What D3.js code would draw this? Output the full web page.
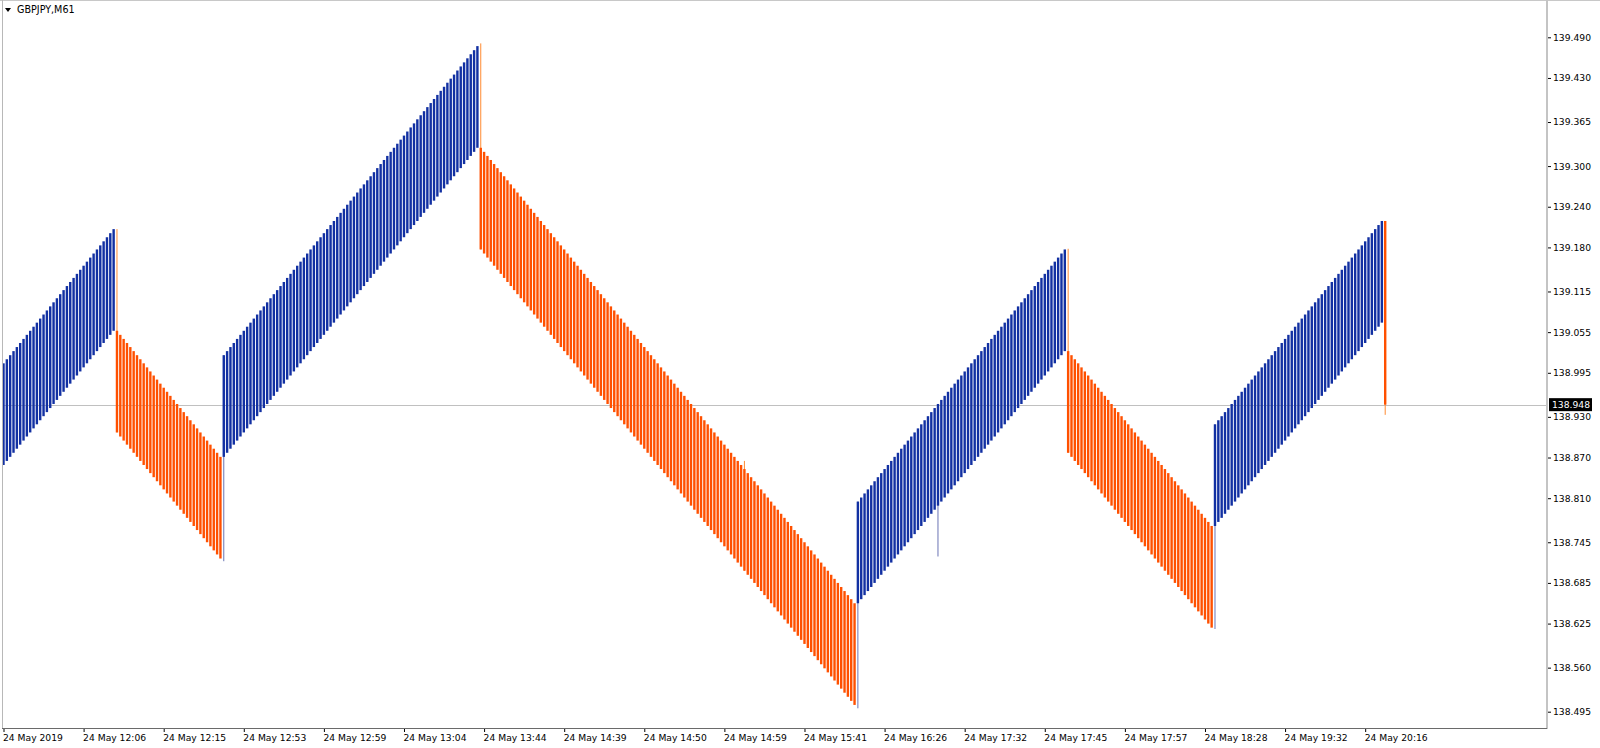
<!DOCTYPE html>
<html><head><meta charset="utf-8">
<script src="https://cdn.jsdelivr.net/npm/d3@7"></script>
<style>html,body{margin:0;padding:0;background:#fff;overflow:hidden}</style>
</head><body><svg id="c" width="1600" height="748"></svg>
<script>
const symbol = "GBPJPY,M61";
// bar opens / closes (bar index = position)
const opens = [
// leg 1 up
138.859,138.865,138.871,138.877,138.883,138.889,138.895,138.901,138.907,138.913,
138.919,138.925,138.931,138.937,138.943,138.949,138.955,138.961,138.967,138.973,
138.979,138.985,138.991,138.997,139.003,139.009,139.015,139.021,139.027,139.033,
139.039,139.045,139.051,139.057,
// leg 2 down
139.057,139.051,139.045,139.039,139.033,139.027,139.021,139.015,139.009,139.003,
138.997,138.991,138.985,138.979,138.973,138.967,138.961,138.955,138.949,138.943,
138.937,138.931,138.925,138.919,138.913,138.907,138.901,138.895,138.889,138.883,
138.877,138.871,
// leg 3 up
138.871,138.877,138.883,138.889,138.895,138.901,138.907,138.913,138.919,138.925,
138.931,138.937,138.943,138.949,138.955,138.961,138.967,138.973,138.979,138.985,
138.991,138.997,139.003,139.009,139.015,139.021,139.027,139.033,139.039,139.045,
139.051,139.057,139.063,139.069,139.075,139.081,139.087,139.093,139.099,139.105,
139.111,139.117,139.123,139.129,139.135,139.141,139.147,139.153,139.159,139.165,
139.171,139.177,139.183,139.189,139.195,139.201,139.207,139.213,139.219,139.225,
139.231,139.237,139.243,139.249,139.255,139.261,139.267,139.273,139.279,139.285,
139.291,139.297,139.303,139.309,139.315,139.321,139.327,
// leg 4 down
139.327,139.321,139.315,139.309,139.303,139.297,139.291,139.285,139.279,139.273,
139.267,139.261,139.255,139.249,139.243,139.237,139.231,139.225,139.219,139.213,
139.207,139.201,139.195,139.189,139.183,139.177,139.171,139.165,139.159,139.153,
139.147,139.141,139.135,139.129,139.123,139.117,139.111,139.105,139.099,139.093,
139.087,139.081,139.075,139.069,139.063,139.057,139.051,139.045,139.039,139.033,
139.027,139.021,139.015,139.009,139.003,138.997,138.991,138.985,138.979,138.973,
138.967,138.961,138.955,138.949,138.943,138.937,138.931,138.925,138.919,138.913,
138.907,138.901,138.895,138.889,138.883,138.877,138.871,138.865,138.859,138.853,
138.847,138.841,138.835,138.829,138.823,138.817,138.811,138.805,138.799,138.793,
138.787,138.781,138.775,138.769,138.763,138.757,138.751,138.745,138.739,138.733,
138.727,138.721,138.715,138.709,138.703,138.697,138.691,138.685,138.679,138.673,
138.667,138.661,138.655,
// leg 5 up
138.655,138.661,138.667,138.673,138.679,138.685,138.691,138.697,138.703,138.709,
138.715,138.721,138.727,138.733,138.739,138.745,138.751,138.757,138.763,138.769,
138.775,138.781,138.787,138.793,138.799,138.805,138.811,138.817,138.823,138.829,
138.835,138.841,138.847,138.853,138.859,138.865,138.871,138.877,138.883,138.889,
138.895,138.901,138.907,138.913,138.919,138.925,138.931,138.937,138.943,138.949,
138.955,138.961,138.967,138.973,138.979,138.985,138.991,138.997,139.003,139.009,
139.015,139.021,139.027,
// leg 6 down
139.027,139.021,139.015,139.009,139.003,138.997,138.991,138.985,138.979,138.973,
138.967,138.961,138.955,138.949,138.943,138.937,138.931,138.925,138.919,138.913,
138.907,138.901,138.895,138.889,138.883,138.877,138.871,138.865,138.859,138.853,
138.847,138.841,138.835,138.829,138.823,138.817,138.811,138.805,138.799,138.793,
138.787,138.781,138.775,138.769,
// leg 7 up
138.769,138.775,138.781,138.787,138.793,138.799,138.805,138.811,138.817,138.823,
138.829,138.835,138.841,138.847,138.853,138.859,138.865,138.871,138.877,138.883,
138.889,138.895,138.901,138.907,138.913,138.919,138.925,138.931,138.937,138.943,
138.949,138.955,138.961,138.967,138.973,138.979,138.985,138.991,138.997,139.003,
139.009,139.015,139.021,139.027,139.033,139.039,139.045,139.051,139.057,139.063,
139.069,
// last bar
139.219
];
const closes = [
// leg 1
139.009,139.015,139.021,139.027,139.033,139.039,139.045,139.051,139.057,139.063,
139.069,139.075,139.081,139.087,139.093,139.099,139.105,139.111,139.117,139.123,
139.129,139.135,139.141,139.147,139.153,139.159,139.165,139.171,139.177,139.183,
139.189,139.195,139.201,139.207,
// leg 2
138.907,138.901,138.895,138.889,138.883,138.877,138.871,138.865,138.859,138.853,
138.847,138.841,138.835,138.829,138.823,138.817,138.811,138.805,138.799,138.793,
138.787,138.781,138.775,138.769,138.763,138.757,138.751,138.745,138.739,138.733,
138.727,138.721,
// leg 3
139.021,139.027,139.033,139.039,139.045,139.051,139.057,139.063,139.069,139.075,
139.081,139.087,139.093,139.099,139.105,139.111,139.117,139.123,139.129,139.135,
139.141,139.147,139.153,139.159,139.165,139.171,139.177,139.183,139.189,139.195,
139.201,139.207,139.213,139.219,139.225,139.231,139.237,139.243,139.249,139.255,
139.261,139.267,139.273,139.279,139.285,139.291,139.297,139.303,139.309,139.315,
139.321,139.327,139.333,139.339,139.345,139.351,139.357,139.363,139.369,139.375,
139.381,139.387,139.393,139.399,139.405,139.411,139.417,139.423,139.429,139.435,
139.441,139.447,139.453,139.459,139.465,139.471,139.477,
// leg 4
139.177,139.171,139.165,139.159,139.153,139.147,139.141,139.135,139.129,139.123,
139.117,139.111,139.105,139.099,139.093,139.087,139.081,139.075,139.069,139.063,
139.057,139.051,139.045,139.039,139.033,139.027,139.021,139.015,139.009,139.003,
138.997,138.991,138.985,138.979,138.973,138.967,138.961,138.955,138.949,138.943,
138.937,138.931,138.925,138.919,138.913,138.907,138.901,138.895,138.889,138.883,
138.877,138.871,138.865,138.859,138.853,138.847,138.841,138.835,138.829,138.823,
138.817,138.811,138.805,138.799,138.793,138.787,138.781,138.775,138.769,138.763,
138.757,138.751,138.745,138.739,138.733,138.727,138.721,138.715,138.709,138.703,
138.697,138.691,138.685,138.679,138.673,138.667,138.661,138.655,138.649,138.643,
138.637,138.631,138.625,138.619,138.613,138.607,138.601,138.595,138.589,138.583,
138.577,138.571,138.565,138.559,138.553,138.547,138.541,138.535,138.529,138.523,
138.517,138.511,138.505,
// leg 5
138.805,138.811,138.817,138.823,138.829,138.835,138.841,138.847,138.853,138.859,
138.865,138.871,138.877,138.883,138.889,138.895,138.901,138.907,138.913,138.919,
138.925,138.931,138.937,138.943,138.949,138.955,138.961,138.967,138.973,138.979,
138.985,138.991,138.997,139.003,139.009,139.015,139.021,139.027,139.033,139.039,
139.045,139.051,139.057,139.063,139.069,139.075,139.081,139.087,139.093,139.099,
139.105,139.111,139.117,139.123,139.129,139.135,139.141,139.147,139.153,139.159,
139.165,139.171,139.177,
// leg 6
138.877,138.871,138.865,138.859,138.853,138.847,138.841,138.835,138.829,138.823,
138.817,138.811,138.805,138.799,138.793,138.787,138.781,138.775,138.769,138.763,
138.757,138.751,138.745,138.739,138.733,138.727,138.721,138.715,138.709,138.703,
138.697,138.691,138.685,138.679,138.673,138.667,138.661,138.655,138.649,138.643,
138.637,138.631,138.625,138.619,
// leg 7
138.919,138.925,138.931,138.937,138.943,138.949,138.955,138.961,138.967,138.973,
138.979,138.985,138.991,138.997,139.003,139.009,139.015,139.021,139.027,139.033,
139.039,139.045,139.051,139.057,139.063,139.069,139.075,139.081,139.087,139.093,
139.099,139.105,139.111,139.117,139.123,139.129,139.135,139.141,139.147,139.153,
139.159,139.165,139.171,139.177,139.183,139.189,139.195,139.201,139.207,139.213,
139.219,
// last bar
138.948
];
// bars that show a high/low shadow beyond their body
const wickBars  = [34, 66, 143, 222, 256, 280, 319, 363, 414];
const wickHighs = [139.207, 139.021, 139.481, 138.865, 138.805, 138.949, 139.178, 138.919, 139.219];
const wickLows  = [138.907, 138.717, 139.177, 138.703, 138.500, 138.724, 138.877, 138.617, 138.933];

const lastPrice = 138.948;
const yTickValues = [139.490,139.430,139.365,139.300,139.240,139.180,139.115,139.055,138.995,
                     138.930,138.870,138.810,138.745,138.685,138.625,138.560,138.495];
const xTickBars = [0,24,48,72,96,120,144,168,192,216,240,264,288,312,336,360,384,408];
const xTickLabels = ["24 May 2019","24 May 12:06","24 May 12:15","24 May 12:53","24 May 12:59",
  "24 May 13:04","24 May 13:44","24 May 14:39","24 May 14:50","24 May 14:59","24 May 15:41",
  "24 May 16:26","24 May 17:32","24 May 17:45","24 May 17:57","24 May 18:28","24 May 19:32","24 May 20:16"];

const svg = d3.select("#c");
const FONT = "DejaVu Sans, Tahoma, sans-serif";
const plotL = 2, plotR = 1547, plotT = 1, plotB = 728;

const n = closes.length;
const x = d3.scaleLinear().domain([0, 414]).range([3.5, 1385.2]);
const y = d3.scaleLinear().domain([139.490, 138.495]).range([37.3, 711.7]);

const UP = "#1230a2", DOWN = "#ff5000";
const bw = 2.4;

// price line
svg.append("line").attr("x1", plotL).attr("x2", plotR)
  .attr("y1", Math.round(y(lastPrice)) + 0.5).attr("y2", Math.round(y(lastPrice)) + 0.5)
  .attr("stroke", "#c0c0c0").attr("stroke-width", 1);

// wicks
const wicks = wickBars.map((b, i) => ({b, hi: wickHighs[i], lo: wickLows[i], up: closes[b] >= opens[b]}));
svg.append("g").selectAll("line").data(wicks).join("line")
  .attr("x1", d => x(d.b)).attr("x2", d => x(d.b))
  .attr("y1", d => y(d.hi)).attr("y2", d => y(d.lo))
  .attr("stroke", d => d.up ? "#6a74b4" : "#ff8a30")
  .attr("stroke-width", 1);

// bodies
const bars = d3.range(n).map(i => ({i, o: opens[i], c: closes[i]}));
svg.append("g").selectAll("rect").data(bars).join("rect")
  .attr("x", d => x(d.i) - bw / 2)
  .attr("width", bw)
  .attr("y", d => y(Math.max(d.o, d.c)))
  .attr("height", d => Math.abs(y(d.o) - y(d.c)))
  .attr("fill", d => d.c >= d.o ? UP : DOWN);

// frame
svg.append("line").attr("x1", 0).attr("x2", 1600).attr("y1", 0.5).attr("y2", 0.5).attr("stroke", "#c8c8c8");
svg.append("line").attr("x1", plotL + 0.5).attr("x2", plotL + 0.5).attr("y1", 0).attr("y2", plotB).attr("stroke", "#b8b8b8");
svg.append("line").attr("x1", plotR).attr("x2", plotR).attr("y1", 0).attr("y2", plotB + 1).attr("stroke", "#c4c4c4").attr("stroke-width", 2);
svg.append("line").attr("x1", plotL).attr("x2", plotR).attr("y1", plotB + 0.5).attr("y2", plotB + 0.5).attr("stroke", "#6a6a6a");

// x axis
const xAxis = svg.append("g").attr("transform", `translate(0,${plotB + 1})`)
  .call(d3.axisBottom(x).tickValues(xTickBars).tickFormat((d, i) => xTickLabels[i]).tickSize(3).tickPadding(2));
xAxis.select(".domain").remove();
xAxis.selectAll(".tick line").attr("stroke", "#000");
xAxis.selectAll(".tick text").attr("text-anchor", "start").attr("dx", -1)
  .attr("font-family", FONT).attr("font-size", 9.2).attr("fill", "#000");

// y axis
const yAxis = svg.append("g").attr("transform", `translate(${plotR + 1},0)`)
  .call(d3.axisRight(y).tickValues(yTickValues).tickFormat(d3.format(".3f")).tickSize(3).tickPadding(2));
yAxis.select(".domain").remove();
yAxis.selectAll(".tick line").attr("stroke", "#000");
yAxis.selectAll(".tick text").attr("font-family", FONT).attr("font-size", 9.2).attr("fill", "#000");

// current price label
const py = y(lastPrice);
svg.append("rect").attr("x", plotR + 2).attr("y", py - 6.5).attr("width", 43).attr("height", 13).attr("fill", "#000");
svg.append("text").attr("x", plotR + 5).attr("y", py).attr("dy", "0.35em")
  .attr("font-family", FONT).attr("font-size", 9.2).attr("fill", "#fff").text(d3.format(".3f")(lastPrice));

// title
svg.append("path").attr("d", "M5,8 L11,8 L8,12 Z").attr("fill", "#000");
svg.append("text").attr("x", 17).attr("y", 10).attr("dy", "0.35em")
  .attr("font-family", FONT).attr("font-size", 9.6).attr("fill", "#000").text(symbol);
</script></body></html>
